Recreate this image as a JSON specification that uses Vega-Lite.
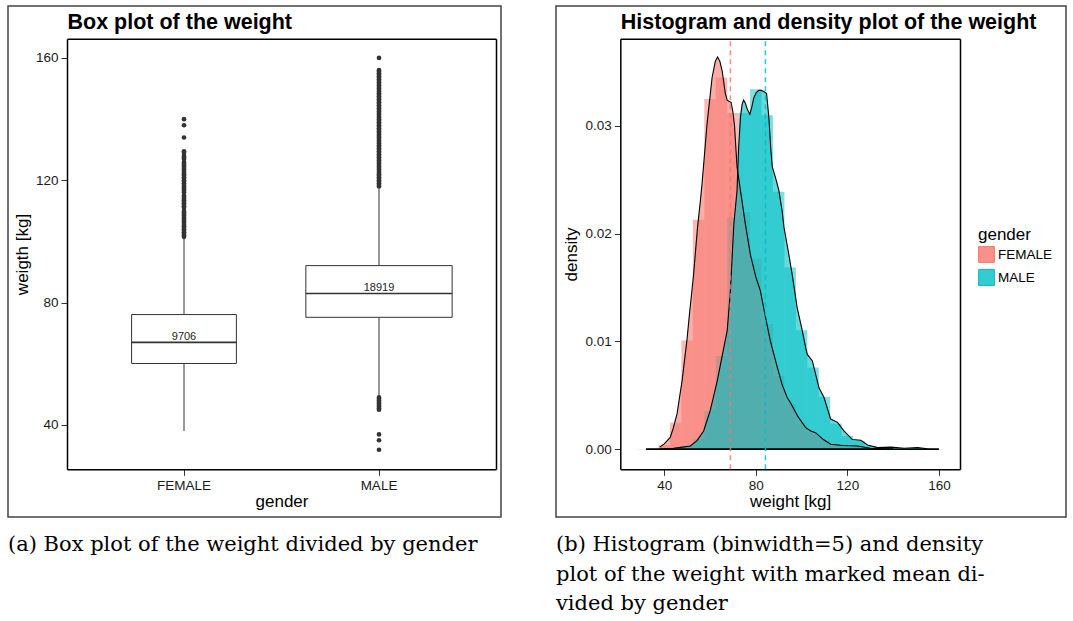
{
  "$schema": "https://vega.github.io/schema/vega-lite/v6.json",
  "padding": {"left": 7, "top": 5, "right": 0, "bottom": 0},
  "spacing": 55,
  "bounds": "flush",
  "config": {
    "view": {"stroke": "#444", "strokeWidth": 1.5},
    "axis": {
      "grid": false,
      "domainColor": "black",
      "domainWidth": 1.5,
      "tickColor": "#333",
      "tickSize": 6,
      "tickWidth": 1,
      "labelPadding": 3,
      "labelFont": "Liberation Sans",
      "labelFontSize": 13.5,
      "labelColor": "#1a1a1a",
      "titleFont": "Liberation Sans",
      "titleFontSize": 17,
      "titleFontWeight": "normal",
      "titleColor": "black"
    },
    "title": {"font": "DejaVu Serif", "fontSize": 21, "fontWeight": "normal", "color": "black"}
  },
  "datasets": {
    "box": [
      {"gender": "FEMALE", "lo": 38.0, "q1": 60.1, "med": 67.0, "q3": 76.1, "hi": 100.9, "n": 9706},
      {"gender": "MALE", "lo": 49.5, "q1": 75.2, "med": 83.0, "q3": 92.1, "hi": 117.3, "n": 18919}
    ],
    "outliers": [
      {"gender": "FEMALE", "w": 101.5}, {"gender": "FEMALE", "w": 102}, {"gender": "FEMALE", "w": 102.5}, {"gender": "FEMALE", "w": 103}, {"gender": "FEMALE", "w": 103.5}, {"gender": "FEMALE", "w": 104}, {"gender": "FEMALE", "w": 104.5}, {"gender": "FEMALE", "w": 105}, {"gender": "FEMALE", "w": 105.5}, {"gender": "FEMALE", "w": 106}, {"gender": "FEMALE", "w": 106.5}, {"gender": "FEMALE", "w": 107}, {"gender": "FEMALE", "w": 107.5}, {"gender": "FEMALE", "w": 108}, {"gender": "FEMALE", "w": 108.5}, {"gender": "FEMALE", "w": 109}, {"gender": "FEMALE", "w": 109.5}, {"gender": "FEMALE", "w": 110}, {"gender": "FEMALE", "w": 111}, {"gender": "FEMALE", "w": 111.5}, {"gender": "FEMALE", "w": 112}, {"gender": "FEMALE", "w": 112.5}, {"gender": "FEMALE", "w": 113}, {"gender": "FEMALE", "w": 113.5}, {"gender": "FEMALE", "w": 114}, {"gender": "FEMALE", "w": 114.5}, {"gender": "FEMALE", "w": 115}, {"gender": "FEMALE", "w": 116}, {"gender": "FEMALE", "w": 116.5}, {"gender": "FEMALE", "w": 117}, {"gender": "FEMALE", "w": 117.5}, {"gender": "FEMALE", "w": 118}, {"gender": "FEMALE", "w": 118.5}, {"gender": "FEMALE", "w": 119}, {"gender": "FEMALE", "w": 119.5}, {"gender": "FEMALE", "w": 120}, {"gender": "FEMALE", "w": 120.5}, {"gender": "FEMALE", "w": 121}, {"gender": "FEMALE", "w": 121.5}, {"gender": "FEMALE", "w": 122}, {"gender": "FEMALE", "w": 122.5}, {"gender": "FEMALE", "w": 123}, {"gender": "FEMALE", "w": 123.5}, {"gender": "FEMALE", "w": 124}, {"gender": "FEMALE", "w": 124.5}, {"gender": "FEMALE", "w": 125}, {"gender": "FEMALE", "w": 125.5}, {"gender": "FEMALE", "w": 126}, {"gender": "FEMALE", "w": 127}, {"gender": "FEMALE", "w": 127.5}, {"gender": "FEMALE", "w": 128}, {"gender": "FEMALE", "w": 129}, {"gender": "FEMALE", "w": 129.5}, {"gender": "FEMALE", "w": 134}, {"gender": "FEMALE", "w": 138}, {"gender": "FEMALE", "w": 140},
      {"gender": "MALE", "w": 118}, {"gender": "MALE", "w": 118.5}, {"gender": "MALE", "w": 119}, {"gender": "MALE", "w": 119.5}, {"gender": "MALE", "w": 120}, {"gender": "MALE", "w": 120.5}, {"gender": "MALE", "w": 121}, {"gender": "MALE", "w": 121.5}, {"gender": "MALE", "w": 122}, {"gender": "MALE", "w": 122.5}, {"gender": "MALE", "w": 123}, {"gender": "MALE", "w": 123.5}, {"gender": "MALE", "w": 124}, {"gender": "MALE", "w": 124.5}, {"gender": "MALE", "w": 125}, {"gender": "MALE", "w": 125.5}, {"gender": "MALE", "w": 126}, {"gender": "MALE", "w": 126.5}, {"gender": "MALE", "w": 127}, {"gender": "MALE", "w": 127.5}, {"gender": "MALE", "w": 128}, {"gender": "MALE", "w": 128.5}, {"gender": "MALE", "w": 129}, {"gender": "MALE", "w": 129.5}, {"gender": "MALE", "w": 130}, {"gender": "MALE", "w": 130.5}, {"gender": "MALE", "w": 131}, {"gender": "MALE", "w": 131.5}, {"gender": "MALE", "w": 132}, {"gender": "MALE", "w": 132.5}, {"gender": "MALE", "w": 133}, {"gender": "MALE", "w": 133.5}, {"gender": "MALE", "w": 134}, {"gender": "MALE", "w": 134.5}, {"gender": "MALE", "w": 135}, {"gender": "MALE", "w": 135.5}, {"gender": "MALE", "w": 136}, {"gender": "MALE", "w": 136.5}, {"gender": "MALE", "w": 137}, {"gender": "MALE", "w": 137.5}, {"gender": "MALE", "w": 138}, {"gender": "MALE", "w": 138.5}, {"gender": "MALE", "w": 139}, {"gender": "MALE", "w": 139.5}, {"gender": "MALE", "w": 140}, {"gender": "MALE", "w": 140.5}, {"gender": "MALE", "w": 141}, {"gender": "MALE", "w": 141.5}, {"gender": "MALE", "w": 142}, {"gender": "MALE", "w": 142.5}, {"gender": "MALE", "w": 143}, {"gender": "MALE", "w": 143.5}, {"gender": "MALE", "w": 144}, {"gender": "MALE", "w": 144.5}, {"gender": "MALE", "w": 145}, {"gender": "MALE", "w": 145.5}, {"gender": "MALE", "w": 146}, {"gender": "MALE", "w": 146.5}, {"gender": "MALE", "w": 147}, {"gender": "MALE", "w": 147.5}, {"gender": "MALE", "w": 148}, {"gender": "MALE", "w": 148.5}, {"gender": "MALE", "w": 149}, {"gender": "MALE", "w": 149.5}, {"gender": "MALE", "w": 150}, {"gender": "MALE", "w": 150.5}, {"gender": "MALE", "w": 151}, {"gender": "MALE", "w": 151.5}, {"gender": "MALE", "w": 152}, {"gender": "MALE", "w": 152.5}, {"gender": "MALE", "w": 153}, {"gender": "MALE", "w": 153.5}, {"gender": "MALE", "w": 154}, {"gender": "MALE", "w": 154.5}, {"gender": "MALE", "w": 155}, {"gender": "MALE", "w": 155.5}, {"gender": "MALE", "w": 156}, {"gender": "MALE", "w": 160},
      {"gender": "MALE", "w": 45}, {"gender": "MALE", "w": 45.5}, {"gender": "MALE", "w": 46}, {"gender": "MALE", "w": 46.5}, {"gender": "MALE", "w": 47}, {"gender": "MALE", "w": 47.5}, {"gender": "MALE", "w": 48}, {"gender": "MALE", "w": 48.5}, {"gender": "MALE", "w": 49}, {"gender": "MALE", "w": 36.9}, {"gender": "MALE", "w": 35.0}, {"gender": "MALE", "w": 31.9}
    ],
    "hist": [
      {"gender": "FEMALE", "b0": 32.5, "b1": 37.5, "d": 0.00005},
      {"gender": "FEMALE", "b0": 37.5, "b1": 42.5, "d": 0.00037},
      {"gender": "FEMALE", "b0": 42.5, "b1": 47.5, "d": 0.00247},
      {"gender": "FEMALE", "b0": 47.5, "b1": 52.5, "d": 0.0101},
      {"gender": "FEMALE", "b0": 52.5, "b1": 57.5, "d": 0.0213},
      {"gender": "FEMALE", "b0": 57.5, "b1": 62.5, "d": 0.0325},
      {"gender": "FEMALE", "b0": 62.5, "b1": 67.5, "d": 0.0345},
      {"gender": "FEMALE", "b0": 67.5, "b1": 72.5, "d": 0.0312},
      {"gender": "FEMALE", "b0": 72.5, "b1": 77.5, "d": 0.022},
      {"gender": "FEMALE", "b0": 77.5, "b1": 82.5, "d": 0.0177},
      {"gender": "FEMALE", "b0": 82.5, "b1": 87.5, "d": 0.0116},
      {"gender": "FEMALE", "b0": 87.5, "b1": 92.5, "d": 0.0068},
      {"gender": "FEMALE", "b0": 92.5, "b1": 97.5, "d": 0.0042},
      {"gender": "FEMALE", "b0": 97.5, "b1": 102.5, "d": 0.0024},
      {"gender": "FEMALE", "b0": 102.5, "b1": 107.5, "d": 0.0015},
      {"gender": "FEMALE", "b0": 107.5, "b1": 112.5, "d": 0.0008},
      {"gender": "FEMALE", "b0": 112.5, "b1": 117.5, "d": 0.0004},
      {"gender": "FEMALE", "b0": 117.5, "b1": 122.5, "d": 0.0003},
      {"gender": "FEMALE", "b0": 122.5, "b1": 127.5, "d": 0.0002},
      {"gender": "FEMALE", "b0": 127.5, "b1": 132.5, "d": 0.0001},
      {"gender": "FEMALE", "b0": 132.5, "b1": 137.5, "d": 0.00005},
      {"gender": "FEMALE", "b0": 137.5, "b1": 142.5, "d": 0.00003},
      {"gender": "MALE", "b0": 27.5, "b1": 32.5, "d": 0.00002},
      {"gender": "MALE", "b0": 32.5, "b1": 37.5, "d": 0.00003},
      {"gender": "MALE", "b0": 37.5, "b1": 42.5, "d": 0.00005},
      {"gender": "MALE", "b0": 42.5, "b1": 47.5, "d": 0.0001},
      {"gender": "MALE", "b0": 47.5, "b1": 52.5, "d": 0.0003},
      {"gender": "MALE", "b0": 52.5, "b1": 57.5, "d": 0.00093},
      {"gender": "MALE", "b0": 57.5, "b1": 62.5, "d": 0.00356},
      {"gender": "MALE", "b0": 62.5, "b1": 67.5, "d": 0.00866},
      {"gender": "MALE", "b0": 67.5, "b1": 72.5, "d": 0.0215},
      {"gender": "MALE", "b0": 72.5, "b1": 77.5, "d": 0.0312},
      {"gender": "MALE", "b0": 77.5, "b1": 82.5, "d": 0.0334},
      {"gender": "MALE", "b0": 82.5, "b1": 87.5, "d": 0.0310},
      {"gender": "MALE", "b0": 87.5, "b1": 92.5, "d": 0.0239},
      {"gender": "MALE", "b0": 92.5, "b1": 97.5, "d": 0.01686},
      {"gender": "MALE", "b0": 97.5, "b1": 102.5, "d": 0.01105},
      {"gender": "MALE", "b0": 102.5, "b1": 107.5, "d": 0.00758},
      {"gender": "MALE", "b0": 107.5, "b1": 112.5, "d": 0.00486},
      {"gender": "MALE", "b0": 112.5, "b1": 117.5, "d": 0.00238},
      {"gender": "MALE", "b0": 117.5, "b1": 122.5, "d": 0.00124},
      {"gender": "MALE", "b0": 122.5, "b1": 127.5, "d": 0.00077},
      {"gender": "MALE", "b0": 127.5, "b1": 132.5, "d": 0.0003},
      {"gender": "MALE", "b0": 132.5, "b1": 137.5, "d": 0.00012},
      {"gender": "MALE", "b0": 137.5, "b1": 142.5, "d": 0.0001},
      {"gender": "MALE", "b0": 142.5, "b1": 147.5, "d": 0.00008},
      {"gender": "MALE", "b0": 147.5, "b1": 152.5, "d": 0.0001},
      {"gender": "MALE", "b0": 152.5, "b1": 157.5, "d": 0.00005},
      {"gender": "MALE", "b0": 157.5, "b1": 162.5, "d": 0.00002}
    ],
    "dens": [
      {"gender": "FEMALE", "w": 38.0, "d": 0.0002},
      {"gender": "FEMALE", "w": 40.0, "d": 0.0005},
      {"gender": "FEMALE", "w": 42.6, "d": 0.0011},
      {"gender": "FEMALE", "w": 44.0, "d": 0.0020},
      {"gender": "FEMALE", "w": 45.6, "d": 0.0033},
      {"gender": "FEMALE", "w": 47.75, "d": 0.0063},
      {"gender": "FEMALE", "w": 49.9, "d": 0.0101},
      {"gender": "FEMALE", "w": 51.0, "d": 0.0125},
      {"gender": "FEMALE", "w": 52.8, "d": 0.0162},
      {"gender": "FEMALE", "w": 54.5, "d": 0.0205},
      {"gender": "FEMALE", "w": 55.8, "d": 0.0231},
      {"gender": "FEMALE", "w": 56.5, "d": 0.0246},
      {"gender": "FEMALE", "w": 58.7, "d": 0.0302},
      {"gender": "FEMALE", "w": 60.9, "d": 0.0345},
      {"gender": "FEMALE", "w": 62.3, "d": 0.0360},
      {"gender": "FEMALE", "w": 63.3, "d": 0.0364},
      {"gender": "FEMALE", "w": 64.3, "d": 0.0360},
      {"gender": "FEMALE", "w": 65.3, "d": 0.0351},
      {"gender": "FEMALE", "w": 66.7, "d": 0.0330},
      {"gender": "FEMALE", "w": 67.5, "d": 0.0324},
      {"gender": "FEMALE", "w": 68.2, "d": 0.0323},
      {"gender": "FEMALE", "w": 69.2, "d": 0.0322},
      {"gender": "FEMALE", "w": 70.0, "d": 0.0313},
      {"gender": "FEMALE", "w": 70.7, "d": 0.0300},
      {"gender": "FEMALE", "w": 71.8, "d": 0.0262},
      {"gender": "FEMALE", "w": 73.3, "d": 0.0240},
      {"gender": "FEMALE", "w": 75.5, "d": 0.0208},
      {"gender": "FEMALE", "w": 77.7, "d": 0.0180},
      {"gender": "FEMALE", "w": 80.0, "d": 0.0160},
      {"gender": "FEMALE", "w": 82.0, "d": 0.0147},
      {"gender": "FEMALE", "w": 84.0, "d": 0.0125},
      {"gender": "FEMALE", "w": 86.4, "d": 0.0100},
      {"gender": "FEMALE", "w": 89.4, "d": 0.0076},
      {"gender": "FEMALE", "w": 91.5, "d": 0.0060},
      {"gender": "FEMALE", "w": 93.7, "d": 0.0048},
      {"gender": "FEMALE", "w": 95.2, "d": 0.0043},
      {"gender": "FEMALE", "w": 98.5, "d": 0.0030},
      {"gender": "FEMALE", "w": 101.8, "d": 0.0020},
      {"gender": "FEMALE", "w": 104.0, "d": 0.0017},
      {"gender": "FEMALE", "w": 106.1, "d": 0.00154},
      {"gender": "FEMALE", "w": 109.5, "d": 0.0009},
      {"gender": "FEMALE", "w": 112.7, "d": 0.00046},
      {"gender": "FEMALE", "w": 118.0, "d": 0.00035},
      {"gender": "FEMALE", "w": 124.4, "d": 0.0003},
      {"gender": "FEMALE", "w": 130.0, "d": 0.0001},
      {"gender": "FEMALE", "w": 135.0, "d": 0.00005},
      {"gender": "FEMALE", "w": 140.0, "d": 0.00002},
      {"gender": "MALE", "w": 32.0, "d": 0.00002},
      {"gender": "MALE", "w": 40.0, "d": 0.00005},
      {"gender": "MALE", "w": 44.0, "d": 0.0001},
      {"gender": "MALE", "w": 48.0, "d": 0.0002},
      {"gender": "MALE", "w": 51.4, "d": 0.0003},
      {"gender": "MALE", "w": 54.3, "d": 0.0008},
      {"gender": "MALE", "w": 57.2, "d": 0.0017},
      {"gender": "MALE", "w": 60.1, "d": 0.0036},
      {"gender": "MALE", "w": 63.1, "d": 0.0063},
      {"gender": "MALE", "w": 66.0, "d": 0.0094},
      {"gender": "MALE", "w": 67.5, "d": 0.0110},
      {"gender": "MALE", "w": 68.9, "d": 0.0147},
      {"gender": "MALE", "w": 70.4, "d": 0.0209},
      {"gender": "MALE", "w": 71.8, "d": 0.0240},
      {"gender": "MALE", "w": 72.5, "d": 0.0280},
      {"gender": "MALE", "w": 73.3, "d": 0.0308},
      {"gender": "MALE", "w": 74.0, "d": 0.0320},
      {"gender": "MALE", "w": 74.7, "d": 0.0324},
      {"gender": "MALE", "w": 75.5, "d": 0.0321},
      {"gender": "MALE", "w": 76.2, "d": 0.0316},
      {"gender": "MALE", "w": 77.4, "d": 0.0311},
      {"gender": "MALE", "w": 78.3, "d": 0.0318},
      {"gender": "MALE", "w": 79.1, "d": 0.0326},
      {"gender": "MALE", "w": 80.2, "d": 0.0331},
      {"gender": "MALE", "w": 81.3, "d": 0.0333},
      {"gender": "MALE", "w": 82.4, "d": 0.0333},
      {"gender": "MALE", "w": 83.5, "d": 0.0332},
      {"gender": "MALE", "w": 84.7, "d": 0.0330},
      {"gender": "MALE", "w": 85.7, "d": 0.0308},
      {"gender": "MALE", "w": 86.5, "d": 0.0280},
      {"gender": "MALE", "w": 87.2, "d": 0.0262},
      {"gender": "MALE", "w": 88.6, "d": 0.0252},
      {"gender": "MALE", "w": 90.1, "d": 0.0240},
      {"gender": "MALE", "w": 91.5, "d": 0.0221},
      {"gender": "MALE", "w": 92.3, "d": 0.0206},
      {"gender": "MALE", "w": 94.4, "d": 0.0181},
      {"gender": "MALE", "w": 95.9, "d": 0.0162},
      {"gender": "MALE", "w": 98.1, "d": 0.0131},
      {"gender": "MALE", "w": 100.3, "d": 0.0110},
      {"gender": "MALE", "w": 101.8, "d": 0.0094},
      {"gender": "MALE", "w": 102.5, "d": 0.0088},
      {"gender": "MALE", "w": 104.7, "d": 0.0082},
      {"gender": "MALE", "w": 107.6, "d": 0.0057},
      {"gender": "MALE", "w": 109.8, "d": 0.0048},
      {"gender": "MALE", "w": 112.7, "d": 0.0028},
      {"gender": "MALE", "w": 115.7, "d": 0.0025},
      {"gender": "MALE", "w": 118.5, "d": 0.0017},
      {"gender": "MALE", "w": 122.2, "d": 0.0009},
      {"gender": "MALE", "w": 125.9, "d": 0.00083},
      {"gender": "MALE", "w": 128.8, "d": 0.0004},
      {"gender": "MALE", "w": 133.2, "d": 0.00015},
      {"gender": "MALE", "w": 139.0, "d": 0.0002},
      {"gender": "MALE", "w": 144.8, "d": 0.0001},
      {"gender": "MALE", "w": 150.7, "d": 0.00015},
      {"gender": "MALE", "w": 155.0, "d": 0.00005},
      {"gender": "MALE", "w": 160.0, "d": 0.00001}
    ],
    "means": [
      {"gender": "FEMALE", "mean": 68.9, "min": 38, "max": 140},
      {"gender": "MALE", "mean": 84.2, "min": 32, "max": 160}
    ]
  },
  "hconcat": [
    {
      "width": 493,
      "height": 511,
      "title": {
        "text": ["(a) Box plot of the weight divided by gender"],
        "orient": "bottom",
        "anchor": "start",
        "frame": "group",
        "offset": 17,
        "lineHeight": 29.5
      },
      "resolve": {"axis": {"x": "independent", "y": "independent"}},
      "layer": [
        {
          "data": {"name": "box"},
          "mark": {"type": "rule", "color": "#333", "strokeWidth": 1},
          "encoding": {
            "x": {
              "field": "gender", "type": "nominal",
              "scale": {"type": "band", "domain": ["FEMALE", "MALE"], "range": [59, 488], "paddingInner": 0, "paddingOuter": 0.1},
              "axis": {"orient": "bottom", "offset": -47.7, "title": "gender", "labelAngle": 0, "titlePadding": 2}
            },
            "y": {
              "field": "lo", "type": "quantitative",
              "scale": {"domain": [25.5, 166.3], "range": [463.3, 32.7], "nice": false, "zero": false},
              "axis": {"orient": "left", "offset": -59, "values": [40, 80, 120, 160], "title": "weigth [kg]", "titlePadding": 4}
            },
            "y2": {"field": "hi"}
          }
        },
        {
          "data": {"name": "box"},
          "mark": {"type": "bar", "orient": "vertical", "fill": "white", "stroke": "#333", "strokeWidth": 1},
          "encoding": {
            "x": {
              "field": "gender", "type": "nominal",
              "axis": {"orient": "top", "offset": -32.7, "labels": false, "ticks": false, "title": "Box plot of the weight", "titleAnchor": "start", "titleAlign": "left", "titleFontWeight": "bold", "titleFontSize": 21.5, "titlePadding": 5}
            },
            "y": {"field": "q1", "type": "quantitative", "axis": {"orient": "right", "offset": -5, "labels": false, "ticks": false, "title": null}},
            "y2": {"field": "q3"},
            "size": {"field": "n", "type": "quantitative", "scale": {"type": "sqrt", "domain": [0, 18919], "range": [0, 146.3]}, "legend": null}
          }
        },
        {
          "data": {"name": "box"},
          "mark": {"type": "tick", "thickness": 1.6, "color": "#333", "opacity": 1},
          "encoding": {
            "x": {"field": "gender", "type": "nominal", "axis": null},
            "y": {"field": "med", "type": "quantitative", "axis": null},
            "size": {"field": "n", "type": "quantitative", "legend": null}
          }
        },
        {
          "data": {"name": "box"},
          "mark": {"type": "text", "font": "Liberation Sans", "fontSize": 11, "color": "#222", "baseline": "alphabetic", "dy": -2},
          "encoding": {
            "x": {"field": "gender", "type": "nominal", "axis": null},
            "y": {"field": "med", "type": "quantitative", "axis": null},
            "text": {"field": "n", "type": "quantitative"}
          }
        },
        {
          "data": {"name": "outliers"},
          "mark": {"type": "circle", "size": 22, "color": "#333", "opacity": 1},
          "encoding": {
            "x": {"field": "gender", "type": "nominal", "axis": null},
            "y": {"field": "w", "type": "quantitative", "axis": null}
          }
        }
      ]
    },
    {
      "width": 510,
      "height": 511,
      "title": {
        "text": ["(b) Histogram (binwidth=5) and density", "plot of the weight with marked mean di-", "vided by gender"],
        "orient": "bottom",
        "anchor": "start",
        "frame": "group",
        "offset": 17,
        "lineHeight": 29.5
      },
      "resolve": {"axis": {"x": "independent", "y": "independent"}},
      "layer": [
        {
          "data": {"name": "hist"},
          "mark": {"type": "bar", "opacity": 0.5},
          "encoding": {
            "x": {
              "field": "b0", "type": "quantitative",
              "scale": {"domain": [20.8, 169.2], "range": [64.3, 404], "nice": false, "zero": false},
              "axis": {"orient": "bottom", "offset": -47.7, "values": [40, 80, 120, 160], "title": "weight [kg]", "titlePadding": 2}
            },
            "x2": {"field": "b1"},
            "y": {
              "field": "d", "type": "quantitative", "stack": null,
              "scale": {"domain": [-0.00186, 0.0381], "range": [463.3, 32.7], "nice": false, "zero": false},
              "axis": {"orient": "left", "offset": -64.3, "values": [0, 0.01, 0.02, 0.03], "format": ".2f", "title": "density", "titlePadding": 5}
            },
            "y2": {"datum": 0},
            "color": {
              "field": "gender", "type": "nominal",
              "scale": {"domain": ["FEMALE", "MALE"], "range": ["#F8766D", "#00BFC4"]},
              "legend": {
                "orient": "none", "legendX": 970, "legendY": 221,
                "title": "gender", "titleFont": "Liberation Sans", "titleFontSize": 17, "titleFontWeight": "normal", "titleColor": "black", "titlePadding": 2,
                "labelFont": "Liberation Sans", "labelFontSize": 13.5, "labelColor": "black", "labelOffset": 3,
                "symbolType": "square", "symbolSize": 250, "symbolStrokeColor": "black", "symbolStrokeWidth": 1, "symbolOpacity": 0.8, "rowPadding": 2,
                "encode": {"symbols": {"update": {"stroke": {"value": "black"}, "strokeWidth": {"value": 1}, "fillOpacity": {"value": 0.8}, "strokeOpacity": {"value": 1}, "opacity": {"value": 1}}}}
              }
            }
          }
        },
        {
          "data": {"name": "dens"},
          "mark": {"type": "area", "opacity": 0.6},
          "encoding": {
            "x": {
              "field": "w", "type": "quantitative",
              "axis": {"orient": "top", "offset": -32.7, "labels": false, "ticks": false, "title": "Histogram and density plot of the weight", "titleAnchor": "start", "titleAlign": "left", "titleFontWeight": "bold", "titleFontSize": 21.5, "titlePadding": 5}
            },
            "y": {"field": "d", "type": "quantitative", "stack": null, "axis": {"orient": "right", "offset": -106, "labels": false, "ticks": false, "title": null}},
            "color": {"field": "gender", "type": "nominal", "legend": null}
          }
        },
        {
          "data": {"name": "dens"},
          "mark": {"type": "line", "color": "black", "strokeWidth": 1.1},
          "encoding": {
            "x": {"field": "w", "type": "quantitative", "axis": null},
            "y": {"field": "d", "type": "quantitative", "axis": null},
            "detail": {"field": "gender", "type": "nominal"}
          }
        },
        {
          "data": {"name": "means"},
          "mark": {"type": "rule", "color": "black", "strokeWidth": 1.3},
          "encoding": {
            "x": {"field": "min", "type": "quantitative", "axis": null},
            "x2": {"field": "max"},
            "y": {"datum": 0, "type": "quantitative", "axis": null}
          }
        },
        {
          "data": {"name": "means"},
          "mark": {"type": "rule", "strokeWidth": 1.6, "strokeDash": [5, 4], "opacity": 0.8},
          "encoding": {
            "x": {"field": "mean", "type": "quantitative", "axis": null},
            "y": {"datum": -0.00186, "type": "quantitative", "axis": null},
            "y2": {"datum": 0.0381},
            "color": {"field": "gender", "type": "nominal", "legend": null}
          }
        }
      ]
    }
  ]
}
